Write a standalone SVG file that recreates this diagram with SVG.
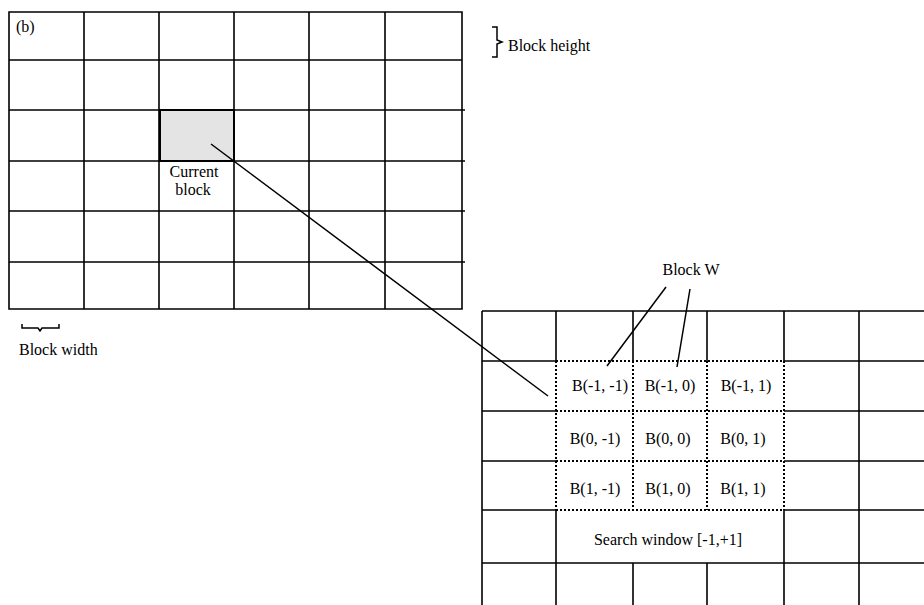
<svg xmlns="http://www.w3.org/2000/svg" width="924" height="605" viewBox="0 0 924 605">
<style>
.g{stroke:#000;stroke-width:1.6;fill:none}
.d{stroke:#000;stroke-width:2;stroke-dasharray:2 2;fill:none}
.t{font-family:"Liberation Serif",serif;font-size:16px;fill:#000}
.m{text-anchor:middle}
.c{stroke:#000;stroke-width:1.5;fill:none}
</style>
<rect width="924" height="605" fill="#fff"/>
<g id="frame-grid">
<rect x="160" y="110" width="74" height="51" fill="#e4e4e4" stroke="#000" stroke-width="2"/>
<path class="g" d="M9 12H462V309H9Z M84 12V309 M159 12V309 M234 12V309 M309 12V309 M385 12V309 M9 60H462 M9 110H465 M9 161H465 M9 211H465 M9 262H465"/>
<text class="t" x="16" y="32">(b)</text>
<text class="t m" x="194" y="177">Current</text>
<text class="t m" x="193" y="195">block</text>
</g>
<g id="block-height">
<path class="c" d="M492 27H497V40L502 42L497 44V57H492"/>
<text class="t" x="508" y="51">Block height</text>
</g>
<g id="block-width">
<path class="c" d="M22 324V328H38L40 331L42 328H59V324"/>
<text class="t" x="19" y="355">Block width</text>
</g>
<g id="search-grid">
<path class="g" d="M482 311H924 M482 311V605 M556 311V361 M633 311V361 M707 311V361 M784 311V361 M859 311V605 M482 361H556 M784 361H924 M482 411H556 M784 411H924 M482 461H556 M784 461H924 M482 510H556 M784 510H924 M556 510V605 M784 510V605 M482 563H924 M633 563V605 M707 563V605"/>
<path class="d" d="M556 361H784 M556 411H784 M556 461H784 M556 510H784 M556 361V510 M633 361V510 M707 361V510 M784 361V510"/>
<text class="t m" x="600" y="391">B(-1, -1)</text>
<text class="t m" x="670" y="391">B(-1, 0)</text>
<text class="t m" x="746" y="391">B(-1, 1)</text>
<text class="t m" x="595" y="444">B(0, -1)</text>
<text class="t m" x="668" y="444">B(0, 0)</text>
<text class="t m" x="743" y="444">B(0, 1)</text>
<text class="t m" x="595" y="494">B(1, -1)</text>
<text class="t m" x="668" y="494">B(1, 0)</text>
<text class="t m" x="743" y="494">B(1, 1)</text>
<text class="t m" x="668" y="545">Search window [-1,+1]</text>
<text class="t m" x="691" y="275">Block W</text>
</g>
<g id="connectors">
<path class="c" d="M211 144L548 396"/>
<path class="c" d="M666 287L607 366"/>
<path class="c" d="M690 289L677 367"/>
</g>
</svg>
